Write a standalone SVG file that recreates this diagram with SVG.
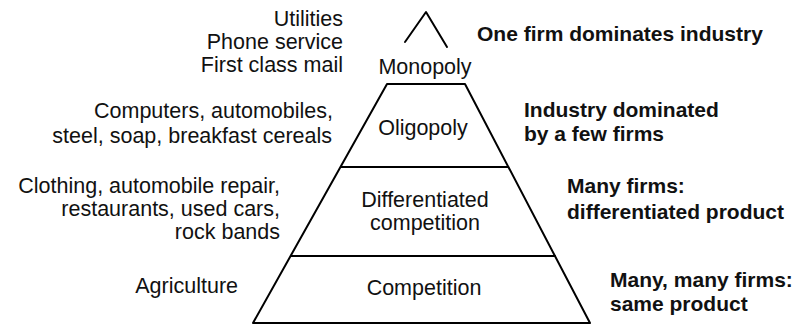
<svg xmlns="http://www.w3.org/2000/svg" width="799" height="325" viewBox="0 0 799 325">
  <style>
    .edge { fill: none; stroke: #000; stroke-width: 2; stroke-linecap: round; stroke-linejoin: round; }
    text { font-family: "Liberation Sans", Arial, Helvetica, sans-serif; font-size: 21.5px; fill: #111; }
    .lbl { text-anchor: middle; }
    .ex { text-anchor: end; }
    .note { font-weight: bold; font-size: 21px; }
  </style>
  <rect width="799" height="325" fill="#fff"/>

  <!-- pyramid outline and tier dividers -->
  <g id="connectors">
    <polyline class="edge" points="405,42 426,12 447,47"/>
    <polyline class="edge" points="253,323 387,84 465,84 590,323 253,323"/>
    <line class="edge" x1="341" y1="167" x2="508" y2="167"/>
    <line class="edge" x1="291" y1="256" x2="555" y2="256"/>
  </g>

  <g id="monopoly">
    <text class="lbl" x="425" y="74">Monopoly</text>
    <text class="ex" x="343" y="26">Utilities</text>
    <text class="ex" x="343" y="49">Phone service</text>
    <text class="ex" x="343" y="72">First class mail</text>
    <text class="note" x="477" y="41">One firm dominates industry</text>
  </g>

  <g id="oligopoly">
    <text class="lbl" x="423" y="135">Oligopoly</text>
    <text class="ex" x="333" y="118">Computers, automobiles,</text>
    <text class="ex" x="332" y="143">steel, soap, breakfast cereals</text>
    <text class="note" x="524" y="117">Industry dominated</text>
    <text class="note" x="524" y="141">by a few firms</text>
  </g>

  <g id="differentiated">
    <text class="lbl" x="425" y="207">Differentiated</text>
    <text class="lbl" x="425" y="230">competition</text>
    <text class="ex" x="280" y="193">Clothing, automobile repair,</text>
    <text class="ex" x="280" y="216">restaurants, used cars,</text>
    <text class="ex" x="280" y="239">rock bands</text>
    <text class="note" x="567" y="193">Many firms:</text>
    <text class="note" x="567" y="219">differentiated product</text>
  </g>

  <g id="competition">
    <text class="lbl" x="424" y="295">Competition</text>
    <text class="ex" x="238" y="293">Agriculture</text>
    <text class="note" x="610" y="287">Many, many firms:</text>
    <text class="note" x="610" y="311">same product</text>
  </g>
</svg>
